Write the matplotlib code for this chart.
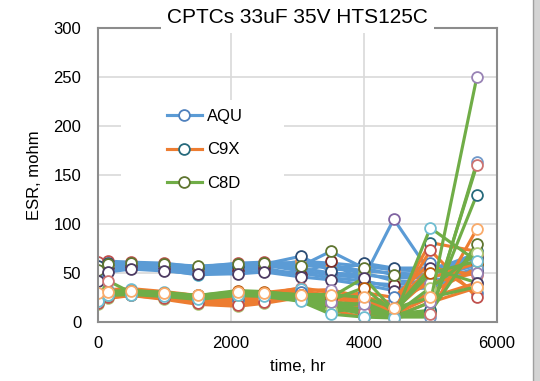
import matplotlib.pyplot as plt
from matplotlib.patches import Rectangle
from matplotlib.lines import Line2D

plt.rcParams['font.family'] = ['Liberation Sans', 'DejaVu Sans']

# Tempos de medição (h)
tempos = [0, 150, 500, 1000, 1500, 2100, 2500, 3050, 3500, 4000, 4450, 5000, 5700]

# ESR (mohm) por peça, grupo AQU
aqu = [
    [52, 58, 60, 58, 55, 57, 58, 55, 50, 48, 45, 45, 62],
    [61, 62, 61, 60, 56, 60, 61, 60, 58, 52, 50, 48, 68],
    [48, 55, 57, 55, 52, 55, 56, 58, 55, 50, 42, 40, 55],
    [50, 56, 58, 56, 53, 58, 58, 52, 48, 45, 105, 50, 60],
    [44, 52, 55, 53, 48, 50, 52, 50, 45, 42, 35, 38, 52],
    [55, 57, 58, 57, 54, 53, 57, 62, 60, 57, 53, 52, 70],
    [57, 60, 59, 58, 55, 56, 59, 67, 52, 60, 55, 55, 65],
    [46, 54, 56, 54, 50, 52, 55, 48, 62, 40, 38, 42, 50],
    [53, 59, 60, 59, 57, 59, 60, 57, 72, 55, 48, 45, 58],
    [42, 51, 54, 52, 49, 49, 51, 46, 43, 38, 32, 35, 53],
]

# grupo C9X
c9x = [
    [22, 28, 30, 27, 22, 20, 23, 30, 28, 20, 15, 81, 72],
    [25, 30, 32, 28, 24, 22, 25, 33, 25, 18, 12, 45, 60],
    [20, 26, 28, 25, 20, 18, 21, 28, 22, 15, 10, 30, 55],
    [28, 32, 33, 30, 25, 26, 28, 35, 30, 22, 18, 55, 48],
    [18, 24, 27, 23, 18, 16, 19, 25, 18, 12, 6, 20, 35],
    [23, 29, 31, 29, 23, 24, 26, 32, 33, 25, 20, 40, 50],
    [30, 33, 34, 31, 27, 28, 30, 34, 15, 10, 8, 25, 40],
    [21, 27, 29, 26, 21, 19, 22, 29, 20, 8, 4, 10, 95],
    [26, 31, 32, 29, 24, 22, 27, 31, 25, 30, 25, 60, 30],
    [19, 25, 27, 24, 19, 17, 20, 27, 12, 5, 12, 73, 25],
]

# grupo C8D
c8d = [
    [27, 30, 31, 29, 26, 31, 30, 25, 20, 12, 6, 10, 80],
    [28, 30, 31, 29, 26, 31, 30, 26, 25, 45, 12, 55, 40],
    [22, 28, 30, 27, 24, 29, 27, 23, 15, 8, 8, 12, 130],
    [29, 31, 32, 30, 27, 32, 31, 27, 22, 35, 10, 50, 62],
    [25, 29, 30, 28, 25, 30, 29, 24, 10, 15, 5, 5, 163],
    [24, 42, 30, 28, 25, 30, 28, 22, 18, 10, 5, 8, 160],
    [23, 28, 29, 27, 24, 28, 28, 22, 12, 20, 7, 35, 70],
    [26, 30, 31, 28, 25, 30, 29, 25, 20, 18, 5, 20, 250],
    [21, 27, 28, 26, 23, 27, 26, 21, 8, 5, 4, 96, 62],
    [30, 31, 32, 30, 27, 31, 30, 28, 28, 25, 14, 25, 36],
]

grupos = ['AQU', 'C9X', 'C8D']

# Cores das bordas dos marcadores (paleta do Excel)
cores_marcador = ['#4F81BD', '#C0504D', '#9BBB59', '#8064A2', '#4BACC6', '#F79646',
                  '#2C4D75', '#772C2A', '#5F7530', '#4D3B62', '#276A7C', '#B65708',
                  '#729ACA', '#CD7371', '#AFC97A', '#9983B5', '#6FBDD1', '#F9AB6B']
cores_linha = ['#5B9BD5', '#ED7D31', '#70AD47']
inicio_cor = [0, 10, 8]

fig = plt.figure(figsize=(5.4, 3.81), dpi=100)
ax = fig.add_axes([0.1815, 0.155, 0.7385, 0.7715])

for g, series in enumerate([aqu, c9x, c8d]):
    for i, s in enumerate(series):
        ax.plot(tempos, s, color=cores_linha[g], lw=2.25, marker='o', ms=7.8,
                mfc='white', mec=cores_marcador[(inicio_cor[g] + i) % 18], mew=1.3,
                zorder=2)

ax.set_xlim(0, 6000)
ax.set_ylim(0, 300)
ax.set_xticks(range(0, 6001, 2000))
ax.set_yticks(range(0, 301, 50))
ax.tick_params(length=0, labelsize=12, pad=10)
ax.tick_params(axis='y', pad=12)
ax.set_axisbelow(True)
ax.grid(color='#d9d9d9', lw=1.2, zorder=0.5)
for sp in ax.spines.values():
    sp.set_color('#8c8c8c')
    sp.set_linewidth(1.5)

ax.set_xlabel('time, hr', fontsize=12, labelpad=6)
ax.set_ylabel('ESR, mohm', fontsize=12, labelpad=8)

# Título com fundo branco sobre a moldura
ax.text(0.5, 1.035, 'CPTCs 33uF 35V HTS125C', transform=ax.transAxes, ha='center',
        va='center', fontsize=15,
        bbox=dict(facecolor='white', edgecolor='none', boxstyle='square,pad=0.3'))

# Caixa branca da legenda
ax.add_patch(Rectangle((0.058, 0.415), 0.408, 0.34, transform=ax.transAxes,
                       facecolor='white', edgecolor='none', zorder=1))
handles = [Line2D([], [], color=cores_linha[g], lw=2.25, marker='o', ms=7.8, mfc='white',
                  mec=cores_marcador[inicio_cor[g]], mew=1.3) for g in range(3)]
ax.legend(handles, grupos, loc='center left', bbox_to_anchor=(0.135, 0.585), frameon=False,
          fontsize=12, labelspacing=1.1, handlelength=2.1, handletextpad=0.3)

# Borda cinza à direita
fig.add_artist(Rectangle((533 / 540, 0), 1, 1, transform=fig.transFigure,
                         facecolor='#d4d4d4', edgecolor='none'))
fig.add_artist(Line2D([533 / 540, 533 / 540], [0, 1], transform=fig.transFigure,
                      color='#a0a0a0', lw=1))

fig.savefig('out.png', dpi=100)
